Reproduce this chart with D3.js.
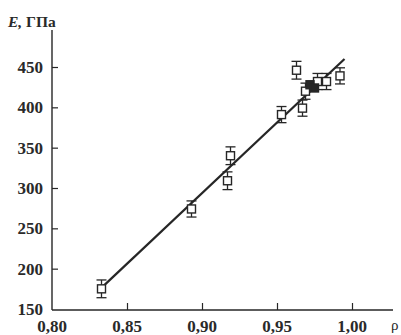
<!DOCTYPE html>
<html>
<head>
<meta charset="utf-8">
<script src="https://cdn.jsdelivr.net/npm/d3@7"></script>
<style>
  html, body { margin: 0; padding: 0; background: #fff; }
  svg { display: block; }
  text { font-family: "Liberation Serif", "DejaVu Serif", serif; fill: #2a2a2a; }
</style>
</head>
<body>
<svg id="chart" width="401" height="335"></svg>
<script>
// Relative density ρ and Young's modulus E (GPa) with measurement spread
const rho    = [0.833, 0.893, 0.917, 0.919, 0.953, 0.967, 0.963, 0.969, 0.977, 0.983, 0.992];
const modE   = [175,   274,   309,   340,   391,   399,   446,   420,   432,   432,   439];
const errE   = [11,    10,    11,    11,    10,    10,    11,    10,    10,    10,    10];
// Filled markers inside the dense cluster
const rhoFilled = [0.972, 0.975];
const modFilled = [428, 424];
// Linear fit drawn through the data
const fitRho = [0.834, 0.995];
const fitE   = [178, 460];

const xTicks = [0.80, 0.85, 0.90, 0.95, 1.00];
const yTicks = [150, 200, 250, 300, 350, 400, 450];

const svg = d3.select("#chart");
const ink = "#262626";

const x = d3.scaleLinear().domain([0.80, 1.00]).range([52, 352]);
const y = d3.scaleLinear().domain([150, 450]).range([309, 67]);

const axisX0 = 52, axisY0 = 310;

// Axis lines
svg.append("line").attr("x1", axisX0).attr("x2", axisX0).attr("y1", 30).attr("y2", axisY0)
  .attr("stroke", ink).attr("stroke-width", 1.4);
svg.append("line").attr("x1", axisX0).attr("x2", 393).attr("y1", axisY0).attr("y2", axisY0)
  .attr("stroke", ink).attr("stroke-width", 1.4);

// Y axis: inward ticks, labels on the left
const yAxis = d3.axisRight(y).tickValues(yTicks.filter(v => v > 150)).tickSize(6).tickFormat("");
const gy = svg.append("g").attr("transform", `translate(${axisX0},0)`).call(yAxis);
gy.select(".domain").remove();
gy.selectAll(".tick line").attr("stroke", ink).attr("stroke-width", 1.2);

svg.append("g").selectAll("text").data(yTicks).join("text")
  .attr("x", 43).attr("y", d => y(d)).attr("dy", "0.35em")
  .attr("text-anchor", "end").attr("font-size", 17).attr("font-weight", "bold")
  .text(d => d);

// X axis: inward ticks, comma decimal labels below
const xAxis = d3.axisTop(x).tickValues(xTicks.filter(v => v > 0.8)).tickSize(7).tickFormat("");
const gx = svg.append("g").attr("transform", `translate(0,${axisY0})`).call(xAxis);
gx.select(".domain").remove();
gx.selectAll(".tick line").attr("stroke", ink).attr("stroke-width", 1.2);

svg.append("g").selectAll("text").data(xTicks).join("text")
  .attr("x", d => x(d)).attr("y", 332)
  .attr("text-anchor", "middle").attr("font-size", 17).attr("font-weight", "bold")
  .text(d => d3.format(".2f")(d).replace(".", ","));

// Axis titles
const ttl = svg.append("text").attr("x", 8).attr("y", 27).attr("font-size", 15.5);
ttl.append("tspan").attr("font-style", "italic").attr("font-weight", "bold").text("E,");
ttl.append("tspan").attr("font-weight", "bold").text(" ГПа");

svg.append("text").attr("x", 391).attr("y", 330).attr("font-size", 15).text("ρ");

// Fit line
svg.append("line")
  .attr("x1", x(fitRho[0])).attr("y1", y(fitE[0]))
  .attr("x2", x(fitRho[1])).attr("y2", y(fitE[1]))
  .attr("stroke", ink).attr("stroke-width", 2.2);

// Error bars
const pts = rho.map((r, i) => ({ r, e: modE[i], d: errE[i] }));
const eb = svg.append("g").attr("stroke", ink).attr("stroke-width", 1.3);
pts.forEach(p => {
  const cx = x(p.r), y1 = y(p.e + p.d), y2 = y(p.e - p.d);
  eb.append("line").attr("x1", cx).attr("x2", cx).attr("y1", y1).attr("y2", y2);
  eb.append("line").attr("x1", cx - 5).attr("x2", cx + 5).attr("y1", y1).attr("y2", y1);
  eb.append("line").attr("x1", cx - 5).attr("x2", cx + 5).attr("y1", y2).attr("y2", y2);
});

// Open square markers
const s = 8;
svg.append("g").selectAll("rect").data(pts).join("rect")
  .attr("x", d => x(d.r) - s / 2).attr("y", d => y(d.e) - s / 2)
  .attr("width", s).attr("height", s)
  .attr("fill", "#fff").attr("stroke", ink).attr("stroke-width", 1.4);

// Filled markers
svg.append("g").selectAll("rect").data(rhoFilled.map((r, i) => ({ r, e: modFilled[i] }))).join("rect")
  .attr("x", d => x(d.r) - s / 2).attr("y", d => y(d.e) - s / 2)
  .attr("width", s).attr("height", s)
  .attr("fill", ink).attr("stroke", ink).attr("stroke-width", 1.4);
</script>
</body>
</html>
